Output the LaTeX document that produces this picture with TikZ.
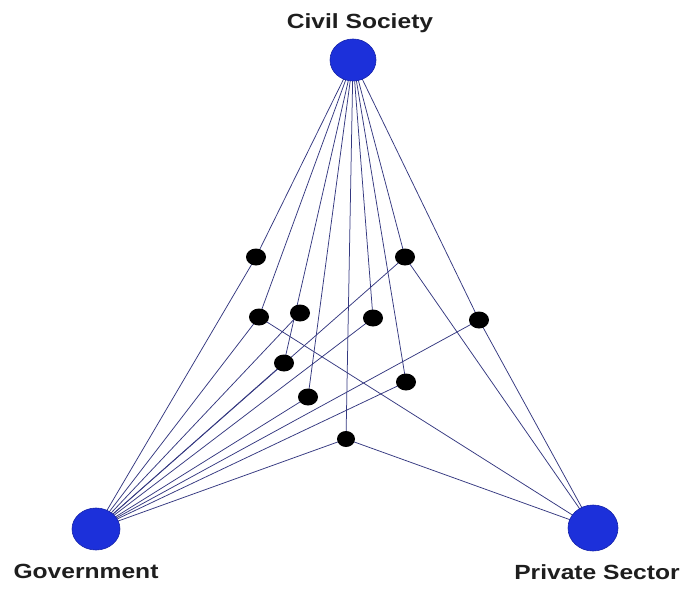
\documentclass[tikz,border=0pt]{standalone}
\usepackage{fontspec}
\newfontfamily\lblfont[FakeStretch=1.2]{Liberation Sans}
\usetikzlibrary{shapes.geometric}
\pgfdeclarelayer{bg}
\pgfsetlayers{bg,main}
\definecolor{edgec}{RGB}{52,56,128}
\definecolor{bigfill}{RGB}{28,48,218}
\definecolor{bigdraw}{RGB}{20,34,170}
\definecolor{txt}{RGB}{30,30,30}
\tikzset{
  big/.style={ellipse, fill=bigfill, draw=bigdraw, line width=0.6pt, inner sep=0pt},
  dot/.style={ellipse, fill=black, draw=none, inner sep=0pt, minimum width=20pt, minimum height=17pt},
  lbl/.style={anchor=base, text=txt, font=\lblfont\bfseries\fontsize{20.5}{24}\selectfont},
  conn/.style={draw=edgec, line width=0.75pt}
}
\begin{document}
\begin{tikzpicture}[x=1pt,y=-1pt]
\useasboundingbox (0,0) rectangle (683,589);
% big nodes
\node[big, minimum width=46pt, minimum height=42pt] (cs) at (353,60) {};
\node[big, minimum width=48pt, minimum height=42pt] (gov) at (96,529) {};
\node[big, minimum width=50pt, minimum height=46pt] (ps) at (593,528) {};
% labels
\node[lbl] (lcs) at (360,28) {Civil Society};
\node[lbl] (lgov) at (86,578) {Government};
\node[lbl] (lps) at (597,579) {Private Sector};
% small dots
\node[dot] (d1) at (256,257) {};
\node[dot] (d2) at (405,257) {};
\node[dot] (d3) at (259,317) {};
\node[dot] (d4) at (300,313) {};
\node[dot] (d5) at (373,318) {};
\node[dot] (d6) at (479,320) {};
\node[dot] (d7) at (284,363) {};
\node[dot] (d8) at (308,397) {};
\node[dot] (d9) at (406,382) {};
\node[dot, minimum width=18pt, minimum height=16pt] (d10) at (346,439) {};
\begin{pgfonlayer}{bg}
\fill[white] (0,0) rectangle (683,589);
% lines from Civil Society (the one to d7 runs through d4)
\foreach \d in {d1,d2,d3,d5,d6,d7,d8,d9,d10}{
  \path[conn] (cs.center) -- (\d.center);
}
% lines to Government
\foreach \d in {d1,d2,d3,d4,d5,d6,d7,d8,d9,d10}{
  \path[conn] (\d.center) -- (gov.center);
}
% lines to Private Sector
\foreach \d in {d2,d3,d6,d10}{
  \path[conn] (\d.center) -- (ps.center);
}
\end{pgfonlayer}
\end{tikzpicture}
\end{document}
